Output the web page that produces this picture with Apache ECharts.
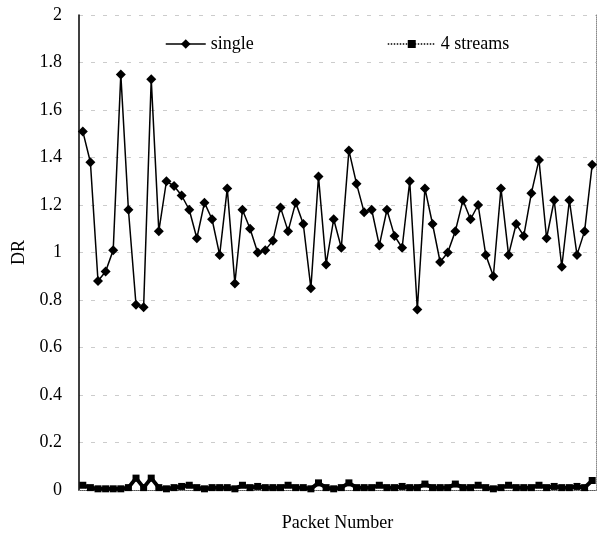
<!DOCTYPE html>
<html>
<head>
<meta charset="utf-8">
<script src="https://cdn.jsdelivr.net/npm/echarts@6/dist/echarts.min.js"></script>
<style>
  html, body { margin: 0; padding: 0; background: #fff; }
  #chart { width: 597px; height: 537px; }
</style>
</head>
<body>
<div id="chart"></div>
<script>
// packet index 1..68
var packets = [];
for (var i = 1; i <= 68; i++) packets.push(String(i));

var single = [
  1.51, 1.38, 0.88, 0.92, 1.01, 1.75, 1.18, 0.78, 0.77, 1.73,
  1.09, 1.30, 1.28, 1.24, 1.18, 1.06, 1.21, 1.14, 0.99, 1.27,
  0.87, 1.18, 1.10, 1.00, 1.01, 1.05, 1.19, 1.09, 1.21, 1.12,
  0.85, 1.32, 0.95, 1.14, 1.02, 1.43, 1.29, 1.17, 1.18, 1.03,
  1.18, 1.07, 1.02, 1.30, 0.76, 1.27, 1.12, 0.96, 1.00, 1.09,
  1.22, 1.14, 1.20, 0.99, 0.90, 1.27, 0.99, 1.12, 1.07, 1.25,
  1.39, 1.06, 1.22, 0.94, 1.22, 0.99, 1.09, 1.37
];

var fourStreams = [
  0.02, 0.01, 0.005, 0.005, 0.005, 0.005, 0.01, 0.05, 0.01, 0.05,
  0.01, 0.005, 0.01, 0.015, 0.02, 0.01, 0.005, 0.01, 0.01, 0.01,
  0.005, 0.02, 0.01, 0.015, 0.01, 0.01, 0.01, 0.02, 0.01, 0.01,
  0.005, 0.03, 0.01, 0.005, 0.01, 0.03, 0.01, 0.01, 0.01, 0.02,
  0.01, 0.01, 0.015, 0.01, 0.01, 0.025, 0.01, 0.01, 0.01, 0.025,
  0.01, 0.01, 0.02, 0.01, 0.005, 0.01, 0.02, 0.01, 0.01, 0.01,
  0.02, 0.01, 0.015, 0.01, 0.01, 0.015, 0.01, 0.04
];

var yTicks = [0, 2, 0.2]; // min, max, step

var font = 'Liberation Serif';
var chart = echarts.init(document.getElementById('chart'));
chart.setOption({
  animation: false,
  backgroundColor: '#fff',
  textStyle: { fontFamily: font },
  grid: { left: 79, right: 1, top: 15, bottom: 37 },
  legend: [
    {
      data: [{ name: 'single', lineStyle: { width: 1.5, type: 'solid', color: '#000' } }],
      left: 160, top: 30,
      itemWidth: 40, itemHeight: 12,
      textStyle: { fontFamily: font, fontSize: 18, color: '#000' }
    },
    {
      data: [{ name: '4 streams', lineStyle: { width: 1.5, type: 'dotted', color: '#000' } }],
      left: 382, top: 30,
      itemWidth: 48, itemHeight: 10,
      textStyle: { fontFamily: font, fontSize: 18, color: '#000' }
    }
  ],
  xAxis: [
    {
      type: 'category', data: packets, boundaryGap: true,
      name: 'Packet Number', nameLocation: 'middle', nameGap: 24,
      nameTextStyle: { fontFamily: font, fontSize: 18, color: '#000' },
      axisLine: { lineStyle: { color: '#000', width: 1 } },
      axisTick: { show: false }, axisLabel: { show: false },
      splitLine: { show: false }
    },
    {
      type: 'category', data: packets, position: 'top',
      axisLine: { lineStyle: { color: '#888', type: 'dotted', width: 1 } },
      axisTick: { show: false }, axisLabel: { show: false }
    }
  ],
  yAxis: [
    {
      type: 'value', min: yTicks[0], max: yTicks[1], interval: yTicks[2],
      name: 'DR', nameLocation: 'middle', nameGap: 40, nameRotate: 90,
      nameTextStyle: { fontFamily: font, fontSize: 18, color: '#000' },
      axisLine: { show: true, lineStyle: { color: '#000', width: 1.5 } },
      axisTick: { show: false },
      axisLabel: { margin: 17, fontFamily: font, fontSize: 18, color: '#000' },
      splitLine: { show: true, lineStyle: { color: '#ccc', type: [4, 8], width: 1 } }
    },
    {
      type: 'value', min: yTicks[0], max: yTicks[1], position: 'right',
      axisLine: { show: true, lineStyle: { color: '#888', type: 'dotted', width: 1 } },
      axisTick: { show: false }, axisLabel: { show: false }, splitLine: { show: false }
    }
  ],
  series: [
    {
      name: 'single', type: 'line', data: single,
      symbol: 'diamond', symbolSize: 10, showAllSymbol: true,
      lineStyle: { color: '#000', width: 1.5 },
      itemStyle: { color: '#000' }
    },
    {
      name: '4 streams', type: 'line', data: fourStreams,
      symbol: 'rect', symbolSize: 7, showAllSymbol: true,
      lineStyle: { color: '#000', width: 4 },
      itemStyle: { color: '#000' }
    }
  ]
});
</script>
</body>
</html>
